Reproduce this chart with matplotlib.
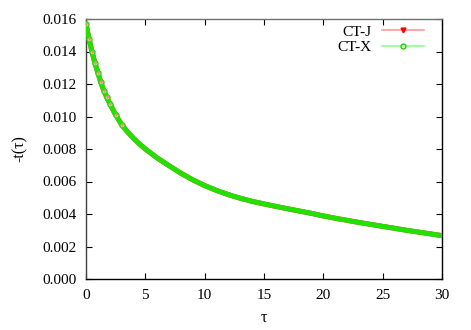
import numpy as np
import matplotlib
matplotlib.use('Agg')
import matplotlib.pyplot as plt

plt.rcParams['font.family'] = ['Liberation Serif', 'DejaVu Serif']

tau = [0, 0.25, 0.5, 0.75, 1, 1.25, 1.5, 1.75, 2, 2.5, 3, 3.5, 4, 4.5, 5, 6, 7, 8, 9, 10,
       11, 12, 13, 14, 15, 16, 17, 18, 19, 20, 21, 22, 23, 24, 25, 26, 27, 28, 29, 30]
ct_j = [0.0157, 0.0148, 0.0140, 0.0133, 0.0127, 0.0121, 0.0116, 0.01118, 0.0108,
        0.0101, 0.0095, 0.00905, 0.00866, 0.00831, 0.00800, 0.00745, 0.00697, 0.00651,
        0.00610, 0.00575, 0.00545, 0.00519, 0.00497, 0.00478, 0.00462, 0.00447, 0.00432,
        0.00418, 0.00404, 0.00388, 0.00374, 0.00361, 0.00348, 0.00336, 0.00324,
        0.00312, 0.00300, 0.00289, 0.00278, 0.00267]
ct_x = list(ct_j)

n_early = 11  # points where the separate markers are still visible

fig = plt.figure(figsize=(4.71, 3.30), dpi=100)
ax = fig.add_axes([86 / 471, 51 / 330, 356 / 471, 260 / 330])

ax.plot(tau, ct_j, color='#ff3030', lw=3.6, solid_capstyle='round', zorder=2)
ax.plot(tau, ct_x, color='#22e000', lw=3.6, solid_capstyle='round', zorder=3,
        marker='o', ms=3.6, mfc='#c8f5b8', mec='#22e000', mew=1.0,
        markevery=slice(0, n_early))
ax.plot(tau[:n_early], ct_j[:n_early], ls='none', marker='v', ms=1.8, color='#ff7070',
        alpha=0.6, zorder=4)

# legend entries
ax.plot([], [], color='#ff9a9a', lw=1.2, marker='v', ms=3.5, mfc='red', mec='red',
        label='CT-J')
ax.plot([], [], color='#90ff90', lw=1.2, marker='o', ms=3.5, mfc='none', mec='#22cc00',
        label='CT-X')

ax.set_xlim(0, 30)
ax.set_ylim(0, 0.016)
ax.set_xticks(np.arange(0, 31, 5))
yt = np.arange(0, 0.0161, 0.002)
ax.set_yticks(yt)
ax.set_yticklabels(['%.3f' % v for v in yt])
ax.tick_params(direction='in', top=True, right=True, labelsize=11, length=4,
               width=0.8, pad=7)
for s in ax.spines.values():
    s.set_linewidth(1)
ax.spines['top'].set_color('#707070')
ax.spines['left'].set_color('#404040')

ax.set_xlabel('τ', fontsize=11.5, labelpad=6)
ax.set_ylabel('-t(τ)', fontsize=11.5, labelpad=10)

ax.legend(loc='upper right', bbox_to_anchor=(0.966, 1.0), frameon=False,
          markerfirst=False, fontsize=11, handlelength=2.75, borderaxespad=0,
          borderpad=0.4, labelspacing=0.1, handletextpad=0.65)

fig.savefig('out.png', dpi=100)
